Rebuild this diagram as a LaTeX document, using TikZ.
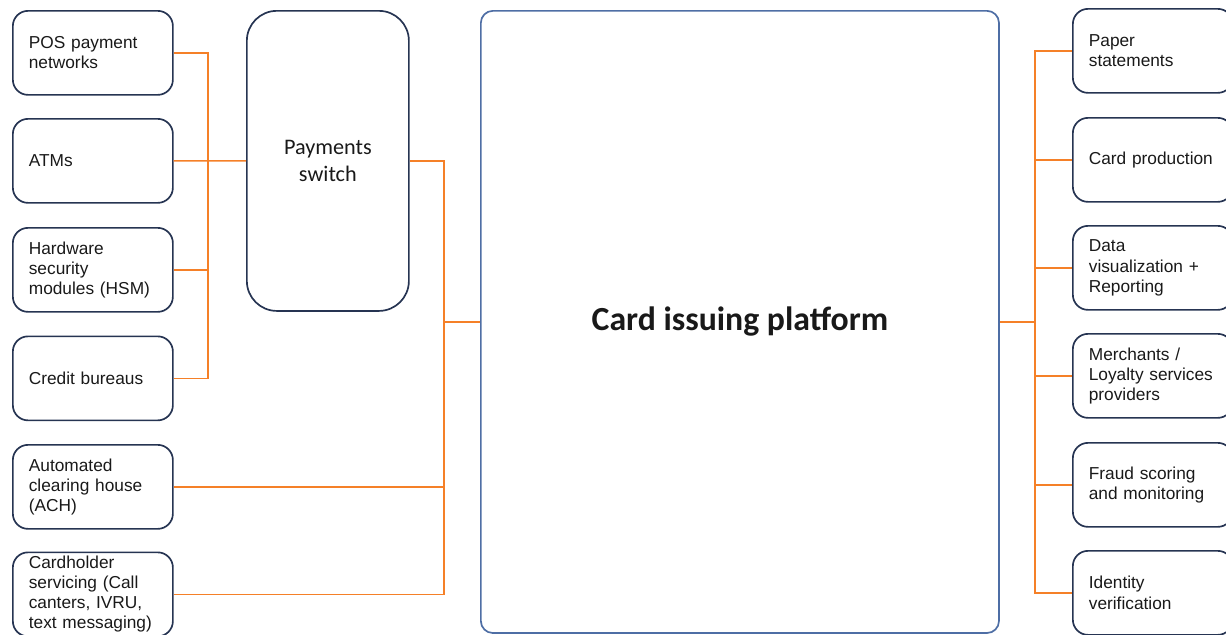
\documentclass[tikz,border=0pt]{standalone}
\usepackage{fontspec}
\setmainfont{Liberation Sans}
\newfontfamily\calfont{Carlito}
\usepackage{tikz}
\usetikzlibrary{positioning}
\definecolor{boxc}{RGB}{38,52,82}
\definecolor{platc}{RGB}{78,110,165}
\definecolor{linkc}{RGB}{245,128,40}
\definecolor{txtc}{RGB}{25,25,25}
\tikzset{
  party/.style={draw=boxc,line width=1.2pt,rounded corners=0.38cm,anchor=north west,
    text width=3.2cm,inner xsep=0.4cm,inner ysep=1pt,minimum height=2.1cm,align=left,
    text=txtc,font=\fontsize{12.3}{14.3}\selectfont},
  link/.style={draw=linkc,line width=1.1pt}
}
\begin{document}
\begin{tikzpicture}[x=0.025cm,y=-0.025cm]
  \useasboundingbox (0,0) rectangle (1226,634);
  \node[party] (pos) at (12,10) {POS payment\\networks};
  \node[party] (atm) at (12,118) {ATMs};
  \node[party] (hsm) at (12,227) {Hardware\\security\\modules (HSM)};
  \node[party] (bureau) at (12,335.5) {Credit bureaus};
  \node[party] (ach) at (12,444) {Automated\\clearing house\\(ACH)};
  \node[party] (holder) at (12,551.5) {Cardholder\\servicing (Call\\canters, IVRU,\\text messaging)};
  \node[draw=boxc,line width=1.2pt,rounded corners=0.75cm,anchor=north west,minimum width=4.05cm,minimum height=7.5cm,
    align=center,text=txtc,font=\calfont\fontsize{15.8}{19}\selectfont] (switch) at (246,10) {Payments\\switch};
  \node[draw=platc,line width=1.2pt,rounded corners=0.3cm,anchor=north west,minimum width=12.95cm,minimum height=15.55cm,
    text=txtc,font=\calfont\bfseries\fontsize{24}{28}\selectfont] (platform) at (480,10) {Card issuing platform};
  \node[party] (paper) at (1072,8) {Paper\\statements};
  \node[party] (cardprod) at (1072,117) {Card production};
  \node[party] (dataviz) at (1072,225) {Data\\visualization +\\Reporting};
  \node[party] (merch) at (1072,333) {Merchants /\\Loyalty services\\providers};
  \node[party] (fraud) at (1072,442) {Fraud scoring\\and monitoring};
  \node[party] (idv) at (1072,550) {Identity\\verification};
  \coordinate (lbus) at (208,0);
  \coordinate (mbus) at (444,0);
  \coordinate (rbus) at (1035,0);
  \draw[link] (pos.east) -| (lbus |- bureau.east) -- (bureau.east);
  \draw[link] (hsm.east) -- (lbus |- hsm.east);
  \draw[link] (atm.east) -- (switch.west);
  \draw[link] (switch.east) -| (mbus |- holder.east) -- (holder.east);
  \draw[link] (ach.east) -- (mbus |- ach.east);
  \draw[link] (mbus |- platform.west) -- (platform.west);
  \draw[link] (paper.west) -| (rbus |- idv.west) -- (idv.west);
  \foreach \n in {cardprod,dataviz,merch,fraud} \draw[link] (rbus |- \n.west) -- (\n.west);
  \draw[link] (platform.east) -- (rbus |- platform.east);
\end{tikzpicture}
\end{document}
